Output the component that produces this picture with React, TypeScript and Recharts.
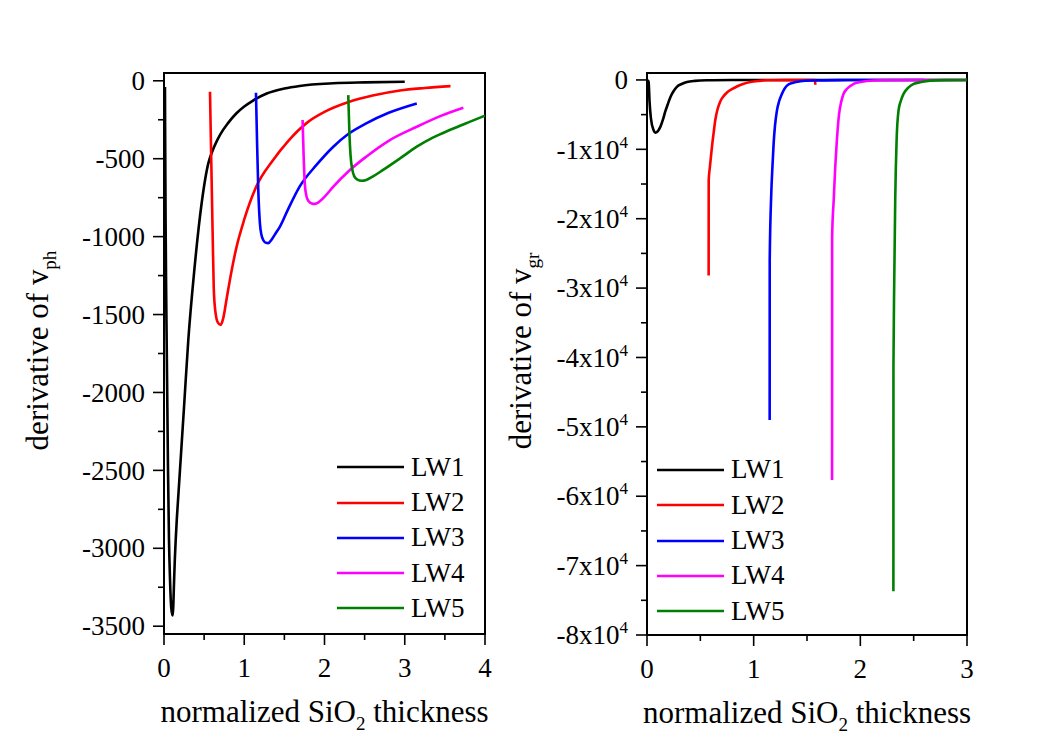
import { LineChart, Line, XAxis, YAxis, ReferenceArea, Legend, Label } from "recharts";

const FONT = '"Liberation Serif", "Times New Roman", serif';

const SERIES_NAMES = ["LW1", "LW2", "LW3", "LW4", "LW5"];
const SERIES_COLORS = ["#000000", "#ff0000", "#0000ff", "#ff00ff", "#008000"];

// left panel: derivative of v_ph  [thickness, value]
const VPH_LW1: [number, number][] = [
  [0.012, -40], [0.014, -300], [0.016, -500], [0.02, -900], [0.026, -1300], [0.033, -1660],
  [0.042, -2100], [0.05, -2500], [0.062, -2940], [0.075, -3200], [0.09, -3380], [0.108, -3431],
  [0.115, -3380], [0.125, -3220], [0.135, -3070], [0.146, -2944], [0.16, -2810], [0.18, -2650],
  [0.2, -2490], [0.25, -2090], [0.303, -1662], [0.378, -1214], [0.469, -786], [0.552, -530],
  [0.6, -455], [0.65, -395], [0.7, -345], [0.8, -270], [0.9, -210], [1.0, -165], [1.1, -130],
  [1.28, -82], [1.5, -50], [1.69, -33], [2.11, -16], [2.5, -10], [3.0, -6],
];
const VPH_LW2: [number, number][] = [
  [0.573, -70], [0.59, -540], [0.605, -950], [0.62, -1330], [0.64, -1480], [0.67, -1550],
  [0.706, -1566], [0.74, -1520], [0.78, -1400], [0.84, -1225], [0.905, -1064], [1.0, -890],
  [1.15, -679], [1.36, -508], [1.55, -385], [1.78, -270], [2.0, -200], [2.31, -135],
  [2.6, -95], [2.94, -62], [3.25, -46], [3.57, -34],
];
const VPH_LW3: [number, number][] = [
  [1.146, -77], [1.16, -400], [1.175, -700], [1.196, -920], [1.215, -990], [1.24, -1025],
  [1.27, -1040], [1.3, -1042], [1.34, -1020], [1.39, -980], [1.445, -936], [1.55, -820],
  [1.69, -679], [1.9, -540], [2.11, -423], [2.3, -340], [2.52, -273], [2.8, -205], [3.15, -145],
];
const VPH_LW4: [number, number][] = [
  [1.727, -252], [1.74, -480], [1.756, -670], [1.775, -740], [1.8, -772], [1.84, -787],
  [1.88, -790], [1.93, -778], [2.0, -745], [2.11, -679], [2.3, -580], [2.52, -487],
  [2.8, -385], [3.15, -295], [3.45, -225], [3.73, -173],
];
const VPH_LW5: [number, number][] = [
  [2.296, -92], [2.31, -330], [2.325, -480], [2.345, -565], [2.37, -612], [2.41, -634],
  [2.46, -641], [2.52, -636], [2.6, -615], [2.73, -572], [2.95, -495], [3.15, -423],
  [3.35, -365], [3.56, -316], [3.8, -265], [4.0, -224],
];

// right panel: derivative of v_gr
const VGR_LW1: [number, number][] = [
  [0.006, -50], [0.015, -290], [0.024, -3170], [0.037, -5570], [0.062, -7250], [0.078, -7600],
  [0.1, -7400], [0.125, -6760], [0.15, -5700], [0.17, -4600], [0.195, -3500], [0.22, -2450],
  [0.25, -1600], [0.28, -1000], [0.33, -550], [0.375, -290], [0.45, -130], [0.56, -50],
  [0.8, -15], [1.2, -5], [2.0, 0], [3.0, 0],
];
const VGR_LW2: [number, number][] = [
  [0.578, -28200], [0.5785, -14500], [0.59, -12500], [0.6, -11000], [0.61, -9500],
  [0.625, -7600], [0.64, -5800], [0.66, -4300], [0.687, -3100], [0.72, -2300], [0.75, -1800],
  [0.8, -1300], [0.843, -950], [0.9, -600], [0.968, -300], [1.05, -130], [1.125, -50],
  [1.3, -20], [1.575, -10], [1.578, -700],
];
const VGR_LW3: [number, number][] = [
  [1.15, -49000], [1.1505, -26000], [1.165, -16400], [1.176, -12500], [1.187, -9210],
  [1.2, -6600], [1.218, -4420], [1.24, -3000], [1.265, -2010], [1.312, -820], [1.37, -400],
  [1.437, -200], [1.55, -80], [1.8, -20], [2.2, 0], [2.6, 0],
];
const VGR_LW4: [number, number][] = [
  [1.735, -57650], [1.7355, -22650], [1.75, -17400], [1.765, -12500], [1.78, -8700],
  [1.8, -5000], [1.82, -3200], [1.843, -2000], [1.88, -1200], [1.937, -580], [2.0, -300],
  [2.06, -150], [2.2, -50], [2.5, -10], [3.0, 0],
];
const VGR_LW5: [number, number][] = [
  [2.31, -73700], [2.3105, -41350], [2.318, -28900], [2.327, -17400], [2.34, -8730],
  [2.358, -4420], [2.38, -3000], [2.405, -2010], [2.45, -1100], [2.5, -580], [2.57, -300],
  [2.655, -100], [2.8, -30], [3.0, -10],
];

const VPH_SERIES = [VPH_LW1, VPH_LW2, VPH_LW3, VPH_LW4, VPH_LW5];
const VGR_SERIES = [VGR_LW1, VGR_LW2, VGR_LW3, VGR_LW4, VGR_LW5];

// ticks (major + minor)
const VPH_X_TICKS = [0, 0.5, 1, 1.5, 2, 2.5, 3, 3.5, 4];
const VPH_Y_TICKS = [0, -250, -500, -750, -1000, -1250, -1500, -1750, -2000, -2250, -2500, -2750, -3000, -3250, -3500];
const VGR_X_TICKS = [0, 0.5, 1, 1.5, 2, 2.5, 3];
const VGR_Y_TICKS = [0, -5000, -10000, -15000, -20000, -25000, -30000, -35000, -40000, -45000, -50000, -55000, -60000, -65000, -70000, -75000, -80000];

const toPoints = (arr: [number, number][]) => arr.map(([x, y]) => ({ x, y }));

const XTick = (props: any) => {
  const { x, y, payload } = props;
  const v = payload.value;
  const major = Number.isInteger(v);
  return (
    <g>
      <line x1={x} x2={x} y1={y} y2={y + (major ? 11 : 6)} stroke="#000" strokeWidth={1.6} />
      {major ? (
        <text x={x} y={y + 43} textAnchor="middle" fontFamily={FONT} fontSize={27} fill="#000">
          {v}
        </text>
      ) : null}
    </g>
  );
};

const makeYTick = (step: number, sci: boolean) => (props: any) => {
  const { x, y, payload } = props;
  const v = payload.value;
  const major = v % step === 0;
  let label: any = String(v);
  if (sci && v !== 0) {
    label = (
      <>
        {`-${Math.abs(v) / 10000}x10`}
        <tspan dy={-11} fontSize={17}>4</tspan>
      </>
    );
  }
  return (
    <g>
      <line x1={x - (major ? 11 : 6)} x2={x} y1={y} y2={y} stroke="#000" strokeWidth={1.6} />
      {major ? (
        <text x={x - 19} y={y} dy="0.34em" textAnchor="end" fontFamily={FONT} fontSize={27} fill="#000">
          {label}
        </text>
      ) : null}
    </g>
  );
};

const XTitle = (props: any) => {
  const vb = props.viewBox;
  return (
    <text x={vb.x + vb.width / 2} y={vb.y + 88} textAnchor="middle" fontFamily={FONT} fontSize={31} fill="#000">
      normalized SiO<tspan dy={8} fontSize={19}>2</tspan>
      <tspan dy={-8}> thickness</tspan>
    </text>
  );
};

const makeYTitle = (sub: string) => (props: any) => {
  const vb = props.viewBox;
  const bx = vb.x + vb.width - 116;
  const cy = vb.y + vb.height / 2 - 3;
  return (
    <text transform={`translate(${bx},${cy}) rotate(-90)`} textAnchor="middle" fontFamily={FONT} fontSize={31} fill="#000">
      derivative of v<tspan dy={8} fontSize={19}>{sub}</tspan>
    </text>
  );
};

const renderLegend = () => (
  <div style={{ fontFamily: FONT, fontSize: 27, color: "#000" }}>
    {SERIES_NAMES.map((name, i) => (
      <div key={name} style={{ height: 35.3, display: "flex", alignItems: "center" }}>
        <svg width={67} height={6} style={{ display: "block" }}>
          <line x1={0} x2={67} y1={3} y2={3} stroke={SERIES_COLORS[i]} strokeWidth={2.6} />
        </svg>
        <span style={{ marginLeft: 7, lineHeight: 1 }}>{name}</span>
      </div>
    ))}
  </div>
);

const VphTick = makeYTick(500, false);
const VgrTick = makeYTick(10000, true);

export default function App() {
  return (
    <div style={{ position: "absolute", left: 0, top: 0, width: 1063, height: 737, background: "#fff" }}>
      <div style={{ position: "absolute", left: 0, top: 0 }}>
        <LineChart width={500} height={737} margin={{ top: 73, right: 15, bottom: 43, left: 64 }}>
          <XAxis
            dataKey="x"
            type="number"
            domain={[0, 4]}
            ticks={VPH_X_TICKS}
            interval={0}
            tickSize={0}
            tickMargin={0}
            tickLine={false}
            tick={XTick}
            height={60}
            axisLine={{ stroke: "#000", strokeWidth: 2 }}
            allowDataOverflow
          >
            <Label content={XTitle} />
          </XAxis>
          <YAxis
            type="number"
            domain={[-3550, 50]}
            ticks={VPH_Y_TICKS}
            interval={0}
            tickSize={0}
            tickMargin={0}
            tickLine={false}
            tick={VphTick}
            width={100}
            axisLine={{ stroke: "#000", strokeWidth: 2 }}
            allowDataOverflow
          >
            <Label content={makeYTitle("ph")} />
          </YAxis>
          <ReferenceArea x1={0} x2={4} y1={-3550} y2={50} fill="none" stroke="#000" strokeWidth={2} />
          {VPH_SERIES.map((s, i) => (
            <Line
              key={SERIES_NAMES[i]}
              data={toPoints(s)}
              dataKey="y"
              name={SERIES_NAMES[i]}
              type="monotone"
              stroke={SERIES_COLORS[i]}
              strokeWidth={2.6}
              dot={false}
              isAnimationActive={false}
            />
          ))}
          <Legend
            layout="vertical"
            align="center"
            verticalAlign="middle"
            content={renderLegend}
            wrapperStyle={{ position: "absolute", left: 337, top: 449.6, width: 150 }}
          />
        </LineChart>
      </div>
      <div style={{ position: "absolute", left: 500, top: 0 }}>
        <LineChart width={563} height={737} margin={{ top: 73, right: 96, bottom: 42, left: 47 }}>
          <XAxis
            dataKey="x"
            type="number"
            domain={[0, 3]}
            ticks={VGR_X_TICKS}
            interval={0}
            tickSize={0}
            tickMargin={0}
            tickLine={false}
            tick={XTick}
            height={60}
            axisLine={{ stroke: "#000", strokeWidth: 2 }}
            allowDataOverflow
          >
            <Label content={XTitle} />
          </XAxis>
          <YAxis
            type="number"
            domain={[-80000, 1000]}
            ticks={VGR_Y_TICKS}
            interval={0}
            tickSize={0}
            tickMargin={0}
            tickLine={false}
            tick={VgrTick}
            width={100}
            axisLine={{ stroke: "#000", strokeWidth: 2 }}
            allowDataOverflow
          >
            <Label content={makeYTitle("gr")} />
          </YAxis>
          <ReferenceArea x1={0} x2={3} y1={-80000} y2={1000} fill="none" stroke="#000" strokeWidth={2} />
          {VGR_SERIES.map((s, i) => (
            <Line
              key={SERIES_NAMES[i]}
              data={toPoints(s)}
              dataKey="y"
              name={SERIES_NAMES[i]}
              type="monotone"
              stroke={SERIES_COLORS[i]}
              strokeWidth={2.6}
              dot={false}
              isAnimationActive={false}
            />
          ))}
          <Legend
            layout="vertical"
            align="center"
            verticalAlign="middle"
            content={renderLegend}
            wrapperStyle={{ position: "absolute", left: 157, top: 452.3, width: 150 }}
          />
        </LineChart>
      </div>
    </div>
  );
}
